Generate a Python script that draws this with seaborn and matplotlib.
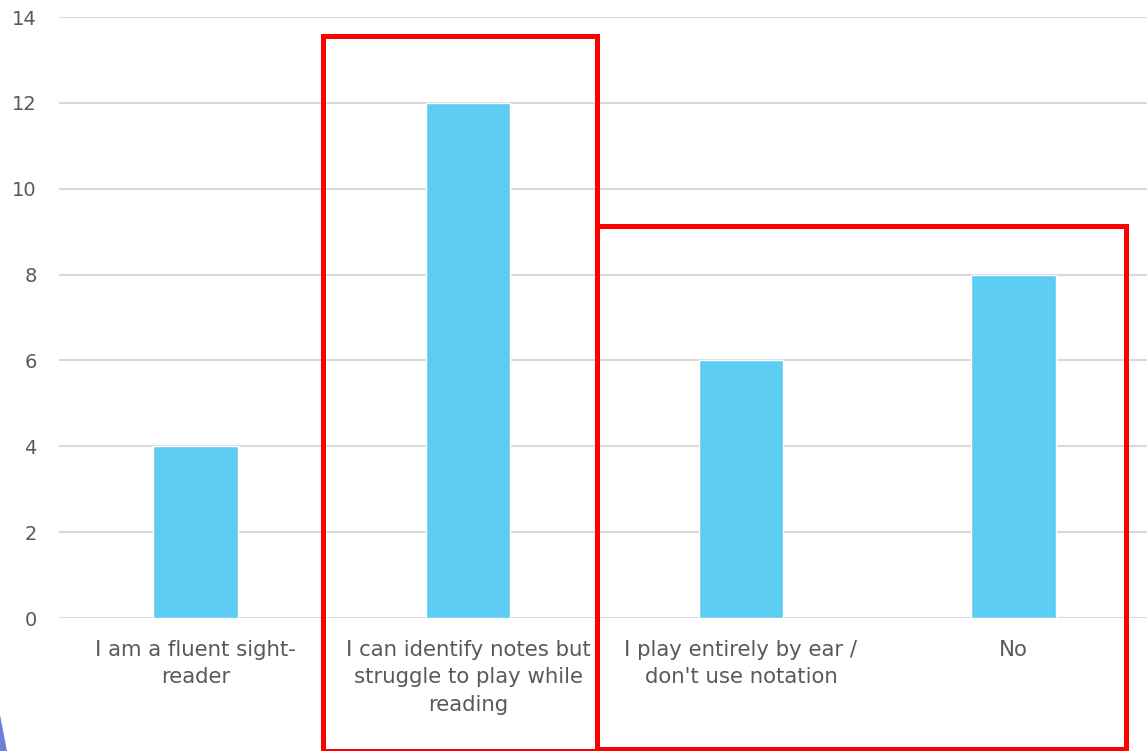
import matplotlib
matplotlib.use("Agg")
import matplotlib.pyplot as plt
from matplotlib.patches import Rectangle, Polygon
import seaborn as sns
import pandas as pd

categories = [
    "I am a fluent sight-\nreader",
    "I can identify notes but\nstruggle to play while\nreading",
    "I play entirely by ear /\ndon't use notation",
    "No",
]
counts = [4, 12, 6, 8]
y_ticks = [0, 2, 4, 6, 8, 10, 12, 14]

sns.set_theme(style="white")
plt.rcParams["font.family"] = ["DejaVu Sans"]

df = pd.DataFrame({"answer": categories, "count": counts})

fig = plt.figure(figsize=(11.47, 7.51), dpi=100)
ax = fig.add_axes([59 / 1147, 1 - 618 / 751, (1150 - 59) / 1147, (618 - 17) / 751])

sns.barplot(data=df, x="answer", y="count", color="#5DCCF2", width=0.31,
            saturation=1, ax=ax, zorder=3)

ax.set_ylim(0, 14)
ax.set_xlim(-0.5, 3.5)
ax.set_yticks(y_ticks)
ax.set_xlabel("")
ax.set_ylabel("")
ax.yaxis.grid(True, color="#D9D9D9", linewidth=1.5, zorder=0)
ax.set_axisbelow(True)
for s in ax.spines.values():
    s.set_visible(False)
ax.tick_params(axis="y", length=0, pad=16, labelsize=14, labelcolor="#595959")
ax.tick_params(axis="x", length=0, pad=16, labelsize=15.3, labelcolor="#595959")
for lbl in ax.get_xticklabels():
    lbl.set_linespacing(1.45)

# highlight boxes
red = "#FF0000"
fig.patches.append(Rectangle((323 / 1147, 1 - 751 / 751), (597 - 323) / 1147, (751 - 36) / 751,
                             transform=fig.transFigure, fill=False, edgecolor=red,
                             linewidth=3.6, zorder=10))
fig.patches.append(Rectangle((597 / 1147, 1 - 749 / 751), (1126 - 597) / 1147, (749 - 226) / 751,
                             transform=fig.transFigure, fill=False, edgecolor=red,
                             linewidth=3.6, zorder=10))

# corner accent
fig.patches.append(Polygon([(0, 0), (7 / 1147, 0), (0, 36 / 751)], closed=True,
                           transform=fig.transFigure, facecolor="#6A7FD8",
                           edgecolor="none", zorder=10))

fig.savefig("out.png", dpi=100)
